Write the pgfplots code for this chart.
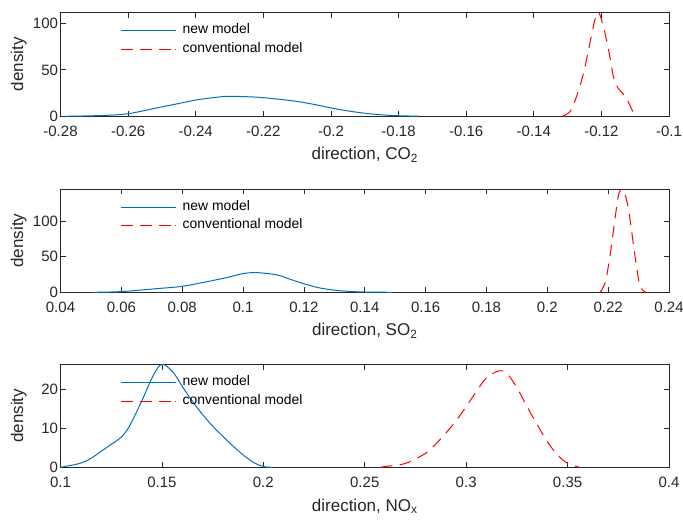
\documentclass[border=0pt]{standalone}
\usepackage{fontspec}
\setmainfont{Liberation Sans}
\usepackage{graphicx}
\usepackage{pgfplots}
\pgfplotsset{compat=1.18}

\definecolor{mblue}{rgb}{0,0.447,0.741}
\definecolor{mred}{rgb}{1,0,0}
\definecolor{axgray}{rgb}{0.15,0.15,0.15}

% legend entries: 10pt text enlarged to about 13.9bp
\newcommand{\lgd}[1]{\scalebox{1.395}{#1}}

\pgfplotsset{
  dens/.style={
    scale only axis,
    width=608.5bp,
    anchor=south west,
    axis line style={axgray, line width=0.8bp},
    every tick/.style={axgray, line width=0.8bp},
    tick align=inside,
    tick pos=both,
    major tick length=5.5bp,
    ymin=0,
    tick label style={axgray, font=\fontsize{15bp}{18bp}\selectfont},
    xticklabel style={inner ysep=0pt, yshift=-9.4bp},
    yticklabel style={inner ysep=0pt, inner xsep=2.3bp},
    label style={axgray, font=\fontsize{17bp}{20bp}\selectfont},
    xlabel style={at={(axis description cs:0.5,0)}, anchor=base, yshift=-43.7bp},
    ylabel={density},
    ylabel style={at={(axis description cs:-0.0616,0.5)}, anchor=base},
    legend style={draw=none, fill=none, at={(axis description cs:0.0994,1)},
      anchor=north west, inner sep=0pt, outer sep=0pt, yshift=-11.5bp, row sep=5bp,
      nodes={inner xsep=5.7bp, inner ysep=0bp, text height=10bp, text depth=3.5bp}},
    legend cell align=left,
  },
  % legend samples take their colour from the colour stack
  newm/.style={color=mblue, line width=1bp, smooth, tension=0.55,
    legend image code/.code={\color{mblue}\draw[draw=mblue, line width=1bp] (0bp,0bp) -- (55bp,0bp);}},
  convm/.style={color=mred, line width=1bp, dash pattern=on 11.5bp off 7.5bp, smooth, tension=0.55,
    legend image code/.code={\color{mred}\draw[draw=mred, solid, line width=1bp]
      (0bp,0bp) -- (11.5bp,0bp) (19bp,0bp) -- (30.5bp,0bp)
      (38bp,0bp) -- (49.5bp,0bp) (54bp,0bp) -- (55bp,0bp);}},
}

\begin{document}
\begin{tikzpicture}
\useasboundingbox (0,0) rectangle (683bp,523bp);

% CO2
\begin{axis}[dens, at={(60.5bp,406.7bp)}, height=104bp,
  xmin=-0.28, xmax=-0.1, ymax=112,
  xtick={-0.28,-0.26,-0.24,-0.22,-0.2,-0.18,-0.16,-0.14,-0.12,-0.1},
  xticklabels={-0.28,-0.26,-0.24,-0.22,-0.2,-0.18,-0.16,-0.14,-0.12,-0.1},
  ytick={0,50,100}, yticklabels={0,50,100},
  xlabel={direction, CO\textsubscript{2}}]
\addplot[newm] coordinates {(-0.2784,0) (-0.2674,0.9) (-0.26,2.8) (-0.2506,9.7) (-0.245,13.8)
  (-0.24,17.5) (-0.235,20) (-0.2308,21.5) (-0.226,21.2) (-0.2211,20.4) (-0.2152,18.3)
  (-0.21,16) (-0.205,12.8) (-0.2,9) (-0.195,5.8) (-0.19,3.3) (-0.185,1.6) (-0.18,0.6) (-0.174,0.1)};
\addlegendentry{\lgd{new model}}
\addplot[convm] coordinates {(-0.1316,0) (-0.1292,5.4) (-0.1272,23) (-0.1252,48) (-0.1233,80.6)
  (-0.1218,105.7) (-0.1208,112) (-0.1193,95) (-0.1178,70) (-0.1164,42) (-0.1152,31)
  (-0.1138,25) (-0.1124,18) (-0.1112,9) (-0.1103,2.5) (-0.1097,0)};
\addlegendentry{\lgd{conventional model}}
\end{axis}

% SO2
\begin{axis}[dens, at={(60.5bp,230.7bp)}, height=103.3bp,
  xmin=0.04, xmax=0.24, ymax=145,
  xtick={0.04,0.06,0.08,0.1,0.12,0.14,0.16,0.18,0.2,0.22,0.24},
  xticklabels={0.04,0.06,0.08,0.1,0.12,0.14,0.16,0.18,0.2,0.22,0.24},
  ytick={0,50,100}, yticklabels={0,50,100},
  xlabel={direction, SO\textsubscript{2}}]
\addplot[newm] coordinates {(0.0508,0) (0.06,1) (0.0718,5.2) (0.08,8.4) (0.0892,15.8) (0.095,21)
  (0.1,26.2) (0.1045,27.6) (0.111,24.5) (0.115,19) (0.12,12) (0.125,6.3) (0.13,3)
  (0.135,1.2) (0.14,0.4) (0.149,0)};
\addlegendentry{\lgd{new model}}
\addplot[convm] coordinates {(0.2173,0) (0.2191,14.8) (0.2208,56.9) (0.2224,108) (0.2235,138)
  (0.2248,144.7) (0.2262,127) (0.2273,99) (0.2284,64) (0.2295,31) (0.2304,10) (0.2315,2.5) (0.2324,0)};
\addlegendentry{\lgd{conventional model}}
\end{axis}

% NOx
\begin{axis}[dens, at={(60.5bp,55.7bp)}, height=103bp,
  xmin=0.1, xmax=0.4, ymax=26.5,
  xtick={0.1,0.15,0.2,0.25,0.3,0.35,0.4},
  xticklabels={0.1,0.15,0.2,0.25,0.3,0.35,0.4},
  ytick={0,10,20}, yticklabels={0,10,20},
  xlabel={direction, NO\textsubscript{x}}]
\addplot[newm] coordinates {(0.1,0) (0.1095,1) (0.115,2.3) (0.12,4.1) (0.125,5.9) (0.13,7.8)
  (0.134,10.6) (0.14,17) (0.1457,23.6) (0.15,26.5) (0.1554,24.5) (0.1603,20.6) (0.165,17)
  (0.17,13.6) (0.175,10.6) (0.18,8) (0.185,5.5) (0.19,3.2) (0.195,1.3) (0.2,0.2) (0.2045,0)};
\addlegendentry{\lgd{new model}}
\addplot[convm] coordinates {(0.258,0) (0.26,0.2) (0.27,1) (0.28,3.6) (0.285,6) (0.29,8.8)
  (0.295,12) (0.3,15.6) (0.305,19.5) (0.31,23) (0.316,24.8) (0.32,24.2) (0.325,20.5)
  (0.33,15.6) (0.335,11) (0.34,6.6) (0.345,3.2) (0.35,1) (0.356,0)};
\addlegendentry{\lgd{conventional model}}
\end{axis}
\end{tikzpicture}
\end{document}
